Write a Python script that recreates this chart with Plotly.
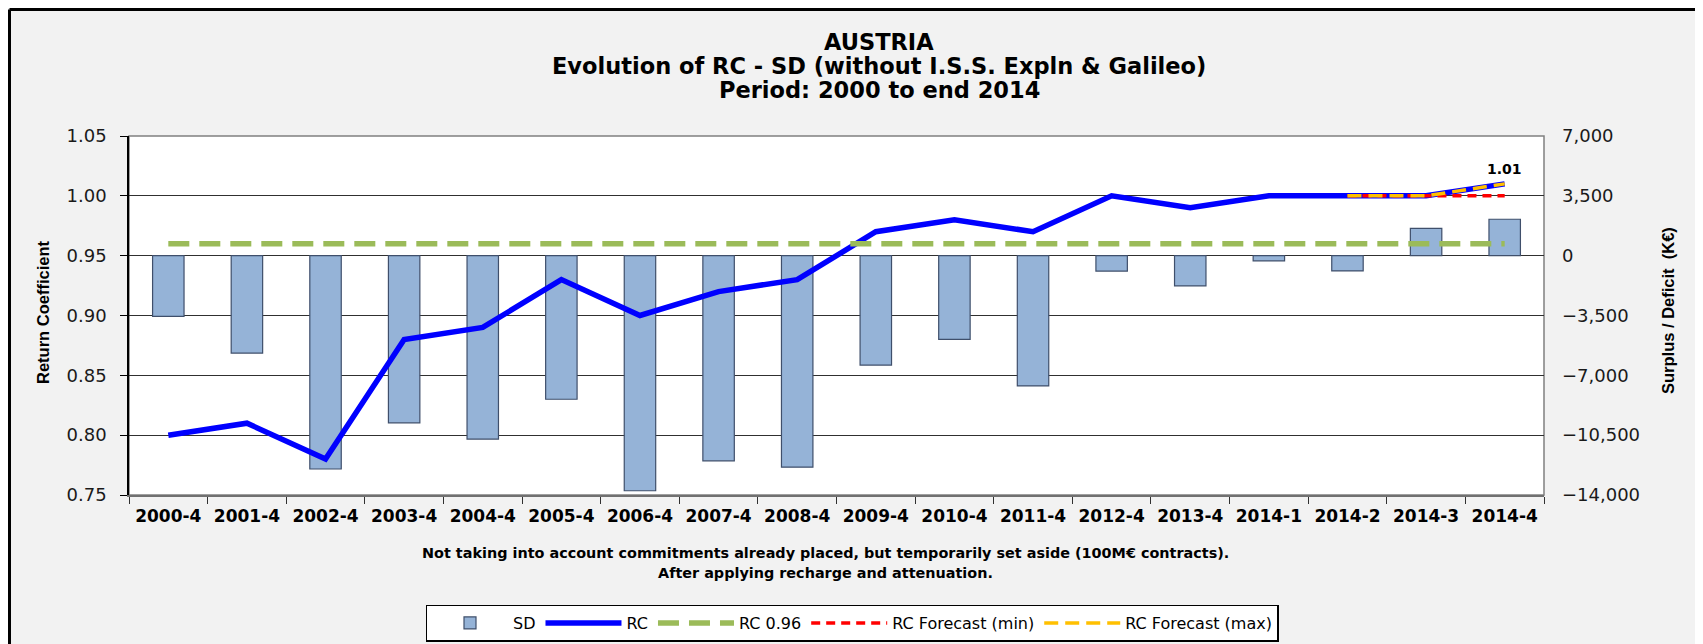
import plotly.graph_objects as go

categories = ["2000-4", "2001-4", "2002-4", "2003-4", "2004-4", "2005-4", "2006-4",
              "2007-4", "2008-4", "2009-4", "2010-4", "2011-4", "2012-4", "2013-4",
              "2014-1", "2014-2", "2014-3", "2014-4"]
sd_values = [-3550, -5700, -12480, -9780, -10730, -8400, -13750, -12000, -12370,
             -6400, -4900, -7620, -900, -1770, -300, -890, 1600, 2130]
rc_values = [0.80, 0.81, 0.78, 0.88, 0.89, 0.93, 0.90, 0.92, 0.93,
             0.97, 0.98, 0.97, 1.00, 0.99, 1.00, 1.00, 1.00, 1.01]
rc_threshold = [0.96] * len(categories)
fc_categories = ["2014-2", "2014-3", "2014-4"]
fc_min = [1.00, 1.00, 1.00]
fc_max = [1.00, 1.00, 1.01]

rc_ticks = [0.75, 0.80, 0.85, 0.90, 0.95, 1.00, 1.05]
sd_ticks = [-14000, -10500, -7000, -3500, 0, 3500, 7000]

title_lines = ["AUSTRIA",
               "Evolution of RC - SD (without I.S.S. Expln & Galileo)",
               "Period: 2000 to end 2014"]
note_lines = ["Not taking into account commitments already placed, but temporarily set aside (100M€ contracts).",
              "After applying recharge and attenuation."]

# the html page has an 8px body margin: the figure starts at page (8, 8)
OFF = 8
W, H = 1703 - OFF, 644 - OFF
L, T = 129 - OFF, 136 - OFF
R = W - (1544 - OFF)
B = H - (495 - OFF)
pw, ph = W - L - R, H - T - B

def px(xpage):
    return (xpage - OFF - L) / pw

def py(ypage):
    return (H - B - (ypage - OFF)) / ph

def fx(xfig):
    return (xfig - L) / pw

def fy(yfig):
    return (H - B - yfig) / ph

WIDE = "DejaVu Sans, Verdana, sans-serif"
ARIAL = "Arial, Liberation Sans, sans-serif"

fig = go.Figure()
fig.add_trace(go.Bar(
    x=categories, y=sd_values, name="SD", yaxis="y", width=0.4,
    marker=dict(color="#95B3D7", line=dict(color="#3F4F6B", width=1.2)),
))
fig.add_trace(go.Scatter(
    x=categories, y=rc_values, name="RC", yaxis="y2", mode="lines",
    line=dict(color="#0000FF", width=5.5),
))
fig.add_trace(go.Scatter(
    x=categories, y=rc_threshold, name="RC 0.96", yaxis="y2", mode="lines",
    line=dict(color="#9BBB59", width=5.5, dash="21px,10px"),
))
fig.add_trace(go.Scatter(
    x=fc_categories, y=fc_min, name="RC Forecast (min)", yaxis="y2", mode="lines",
    line=dict(color="#FF0000", width=3.5, dash="9px,6px"),
))
fig.add_trace(go.Scatter(
    x=fc_categories, y=fc_max, name="RC Forecast (max)", yaxis="y2", mode="lines",
    line=dict(color="#FFC000", width=3.5, dash="14px,7px"),
))

annotations = []
for txt, ymid in zip(title_lines, [42, 65.5, 90]):
    annotations.append(dict(text="<b>" + txt + "</b>", xref="paper", yref="paper",
                            x=px(879), y=py(ymid), xanchor="center", yanchor="middle",
                            showarrow=False, font=dict(family=WIDE, size=22.5, color="#000")))
for txt, ymid in zip(note_lines, [552.5, 573]):
    annotations.append(dict(text="<b>" + txt + "</b>", xref="paper", yref="paper",
                            x=px(825), y=py(ymid), xanchor="center", yanchor="middle",
                            showarrow=False, font=dict(family=WIDE, size=14.4, color="#000")))
annotations += [
    dict(text="<b>Return Coefficient</b>", xref="paper", yref="paper", x=px(43), y=py(312),
         textangle=-90, showarrow=False, xanchor="center", yanchor="middle",
         font=dict(family=ARIAL, size=16.5, color="#000")),
    dict(text="<b>Surplus / Deficit\u00a0 (K€)</b>", xref="paper", yref="paper", x=px(1668), y=py(311),
         textangle=-90, showarrow=False, xanchor="center", yanchor="middle",
         font=dict(family=ARIAL, size=16.5, color="#000")),
    dict(text="<b>1.01</b>", x=categories[-1], y=rc_values[-1], xref="x", yref="y2",
         yshift=15, showarrow=False, font=dict(family=WIDE, size=14, color="#000")),
]

frame = dict(color="#000", width=3)
shapes = [
    dict(type="rect", xref="paper", yref="paper", x0=0, x1=1, y0=0, y1=1,
         fillcolor="#FFFFFF", line=dict(color="#808080", width=1.5), layer="below"),
    dict(type="line", xref="paper", yref="paper", x0=fx(1.5), x1=px(1699), y0=fy(1.5), y1=fy(1.5), line=frame),
    dict(type="line", xref="paper", yref="paper", x0=fx(1.5), x1=fx(1.5), y0=fy(1.5), y1=fy(H + 5), line=frame),
    dict(type="line", xref="paper", yref="paper", x0=px(1699), x1=px(1699), y0=fy(1.5), y1=fy(H + 5), line=frame),
]

fig.update_layout(
    width=W, height=H,
    margin=dict(l=L, r=R, t=T, b=B, pad=0, autoexpand=False),
    paper_bgcolor="#F2F2F2", plot_bgcolor="#FFFFFF",
    font=dict(family=WIDE, color="#000"),
    showlegend=True,
    legend=dict(orientation="h",
                x=(852 - OFF) / W, xanchor="center", xref="container",
                y=1 - (623 - OFF) / H, yanchor="middle", yref="container",
                bgcolor="#FFFFFF", bordercolor="#000", borderwidth=1.5,
                font=dict(family=WIDE, size=16, color="#000"),
                itemwidth=76, tracegroupgap=0),
    xaxis=dict(type="category", categoryorder="array", categoryarray=categories,
               range=[-0.5, len(categories) - 0.5],
               tickfont=dict(family=WIDE, size=17, color="#000"),
               tickprefix="<b>", ticksuffix="</b>",
               ticks="outside", ticklen=7, tickcolor="#303030", tickson="boundaries",
               ticklabelstandoff=5, automargin=False,
               showline=True, linecolor="#707070", linewidth=2,
               showgrid=False),
    yaxis=dict(range=[sd_ticks[0], sd_ticks[-1]], tickvals=sd_ticks, tickformat=",",
               side="right", showgrid=True, gridcolor="#303030", gridwidth=1,
               zeroline=False, ticks="", ticklabelstandoff=17, automargin=False,
               tickfont=dict(family=WIDE, size=18, color="#1a1a1a"),
               showline=False),
    yaxis2=dict(range=[rc_ticks[0], rc_ticks[-1]], tickvals=rc_ticks, tickformat=".2f",
                side="left", overlaying="y", showgrid=False, zeroline=False,
                ticks="outside", ticklen=7, tickcolor="#000", ticklabelstandoff=10,
                automargin=False,
                tickfont=dict(family=WIDE, size=18, color="#1a1a1a"),
                showline=True, linecolor="#000", linewidth=1.5),
    annotations=annotations,
    shapes=shapes,
)

fig.write_html("out.html")
